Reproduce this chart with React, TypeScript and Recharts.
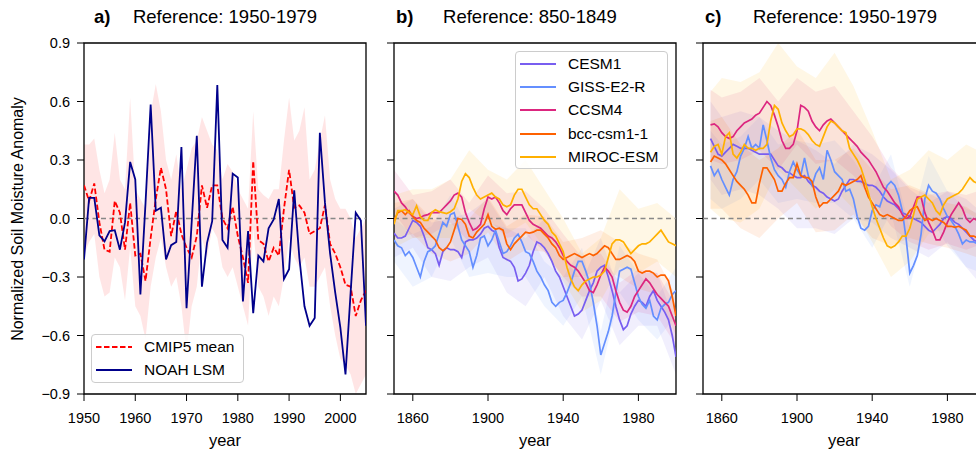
import React from 'react';
import {
  ComposedChart,
  Line,
  Area,
  XAxis,
  YAxis,
  ReferenceLine,
  ReferenceArea,
  Legend,
} from 'recharts';

const FONT = '"Liberation Sans", Arial, Helvetica, sans-serif';

// ---------- panel a: 1950-2005, annual ----------
const yearsA: number[] = [];
for (let y = 1950; y <= 2005; y++) yearsA.push(y);

const noahLsm = [
  -0.21, 0.106, 0.106, -0.087, -0.117, -0.065, -0.06, -0.16, -0.02, 0.29,
  0.2, -0.39, 0.08, 0.585, 0.04, 0.055, -0.21, -0.137, -0.12, 0.367,
  -0.46, -0.02, 0.424, -0.35, -0.125, -0.014, 0.684, -0.11, -0.15, 0.23,
  0.21, -0.425, -0.065, -0.485, -0.19, -0.22, -0.05, -0.005, 0.1, -0.31,
  -0.26, 0.145, -0.2, -0.45, -0.55, -0.51, 0.44, 0.08, -0.18, -0.38,
  -0.56, -0.8, -0.38, 0.03, -0.01, -0.55,
];
const cmipMean = [
  0.17, 0.09, 0.18, -0.02, -0.16, -0.17, 0.09, 0.03, -0.16, 0.08,
  -0.19, -0.18, -0.32, -0.1, 0.1, 0.26, 0.15, -0.09, 0.04, -0.08,
  -0.15, -0.2, -0.09, 0.17, 0.055, 0.17, 0.17, 0.0, -0.05, 0.06,
  -0.09, -0.2, -0.33, 0.295, -0.11, -0.13, -0.22, -0.15, -0.19, 0.05,
  0.25, 0.055, 0.067, 0.03, -0.08, -0.065, -0.05, 0.07, -0.13, -0.18,
  -0.25, -0.34, -0.35, -0.5, -0.42, -0.37,
];
const cmipHi = [
  0.38, 0.38, 0.41, 0.25, 0.13, 0.2, 0.44, 0.2, 0.15, 0.62,
  0.15, 0.1, 0.05, 0.54, 0.69, 0.55, 0.3, 0.2, 0.33, 0.15,
  0.25, 0.36, 0.4, 0.52, 0.45, 0.38, 0.35, 0.2, 0.28, 0.24,
  0.15, 0.1, 0.05, 0.55, 0.15, 0.12, 0.1, 0.15, 0.15, 0.4,
  0.62, 0.4, 0.45, 0.57, 0.2, 0.25, 0.4, 0.53, 0.2, 0.1,
  0.05, 0.05, 0.0, -0.1, -0.05, 0.0,
];
const cmipLo = [
  -0.19, -0.12, -0.08, -0.3, -0.4, -0.38, -0.2, -0.25, -0.42, -0.15,
  -0.45, -0.5, -0.62, -0.35, -0.2, -0.1, -0.25, -0.35, -0.3, -0.45,
  -0.69, -0.45, -0.35, -0.1, -0.2, -0.05, -0.1, -0.25, -0.3, -0.25,
  -0.35, -0.45, -0.55, -0.05, -0.35, -0.4, -0.5, -0.4, -0.45, -0.3,
  -0.1, -0.2, -0.25, -0.2, -0.35, -0.35, -0.3, -0.25, -0.45, -0.6,
  -0.72, -0.75, -0.8, -0.9, -0.85, -0.8,
];

// ---------- panel b: reference 850-1849 ----------
const yearsB: number[] = [];
for (let y = 1850; y <= 2000; y += 2) yearsB.push(y);

const cesm1B = [
  -0.075, -0.1, -0.1, -0.09, -0.05, -0.01, -0.02, -0.04, -0.09, -0.15,
  -0.16, -0.18, -0.24, -0.17, -0.15, -0.16, -0.16, -0.17, -0.2, -0.12,
  -0.11, -0.11, -0.1, -0.08, -0.05, -0.04, -0.06, -0.07, -0.15, -0.2,
  -0.21, -0.22, -0.25, -0.32, -0.31, -0.28, -0.24, -0.17, -0.12,
  -0.13, -0.15, -0.18, -0.22, -0.27, -0.3, -0.35, -0.4, -0.45, -0.5,
  -0.49, -0.47, -0.42, -0.37, -0.33, -0.27, -0.25, -0.24, -0.3, -0.37,
  -0.45, -0.52, -0.57, -0.55, -0.49, -0.45, -0.42, -0.43, -0.45, -0.4,
  -0.37, -0.42, -0.45, -0.48, -0.52, -0.6, -0.71,
];
const gissB = [
  -0.11, -0.14, -0.15, -0.19, -0.17, -0.2, -0.25, -0.3, -0.22, -0.17,
  -0.16, -0.14, -0.08, -0.02, -0.04, 0.02, 0.03, -0.04, -0.11, -0.14,
  -0.17, -0.25, -0.19, -0.1, -0.09, -0.14, -0.11, -0.06, -0.12, -0.18,
  -0.17, -0.14, -0.1, -0.08, -0.12, -0.17, -0.18, -0.22, -0.27,
  -0.3, -0.34, -0.37, -0.43, -0.45, -0.43, -0.42, -0.38, -0.33, -0.27,
  -0.22, -0.22, -0.27, -0.33, -0.43, -0.55, -0.7, -0.64, -0.58, -0.5,
  -0.38, -0.27, -0.26, -0.25, -0.26, -0.33, -0.4, -0.44, -0.46, -0.42,
  -0.5, -0.52, -0.46, -0.44, -0.43, -0.39, -0.37,
];
const ccsm4B = [
  0.14, 0.12, 0.08, 0.06, 0.03, 0.01, 0.0, 0.005, 0.015, 0.02,
  0.03, 0.03, 0.03, 0.05, 0.07, 0.09, 0.12, 0.13, 0.11, 0.03,
  -0.02, -0.06, -0.05, -0.03, 0.05, 0.11, 0.1, 0.11, 0.08, 0.04,
  0.02, 0.05, 0.07, 0.07, 0.07, 0.03, -0.01, -0.03, -0.04,
  -0.05, -0.07, -0.09, -0.1, -0.12, -0.15, -0.19, -0.22, -0.24, -0.25,
  -0.27, -0.3, -0.33, -0.37, -0.38, -0.34, -0.29, -0.25, -0.27, -0.3,
  -0.37, -0.43, -0.47, -0.48, -0.45, -0.4, -0.37, -0.34, -0.31, -0.33,
  -0.36, -0.39, -0.41, -0.43, -0.45, -0.5, -0.55,
];
const bccB = [
  -0.01, 0.03, 0.04, 0.02, 0.04, 0.01, -0.01, -0.02, -0.05, -0.07,
  -0.09, -0.11, -0.15, -0.165, -0.15, -0.12, -0.06, 0.0, -0.005, -0.03,
  -0.09, -0.1, -0.07, -0.05, -0.03, 0.02, -0.04, -0.055, -0.05, -0.06,
  -0.13, -0.16, -0.13, -0.11, -0.09, -0.07, -0.075, -0.07, -0.06,
  -0.06, -0.08, -0.1, -0.13, -0.15, -0.19, -0.21, -0.2, -0.19, -0.18,
  -0.19, -0.2, -0.19, -0.18, -0.19, -0.18, -0.16, -0.14, -0.15, -0.18,
  -0.21, -0.21, -0.2, -0.19, -0.2, -0.22, -0.27, -0.28, -0.27, -0.27,
  -0.28, -0.3, -0.29, -0.29, -0.32, -0.4, -0.5,
];
const mirocB = [
  -0.03, 0.04, 0.04, 0.045, 0.03, 0.02, 0.065, 0.01, -0.01, -0.01,
  0.03, 0.045, 0.035, 0.03, 0.025, 0.035, 0.05, 0.1, 0.19, 0.23,
  0.21, 0.16, 0.12, 0.1, 0.11, 0.12, 0.13, 0.11, 0.1, 0.07,
  0.06, 0.07, 0.12, 0.15, 0.15, 0.11, 0.07, 0.05, 0.05,
  0.02, -0.01, -0.03, -0.07, -0.09, -0.13, -0.17, -0.25, -0.31, -0.35,
  -0.37, -0.34, -0.32, -0.31, -0.3, -0.3, -0.29, -0.27, -0.2, -0.13,
  -0.11, -0.11, -0.12, -0.15, -0.18, -0.16, -0.14, -0.13, -0.13, -0.12,
  -0.1, -0.08, -0.06, -0.09, -0.12, -0.13, -0.14,
];

// ensemble spread, read every 10 years
const bandYearsB = [1850, 1860, 1870, 1880, 1890, 1900, 1910, 1920, 1930, 1940, 1950, 1960, 1970, 1980, 1990, 2000];
const cesm1BLo = [-0.2, -0.15, -0.3, -0.32, -0.25, -0.2, -0.38, -0.45, -0.3, -0.5, -0.62, -0.42, -0.65, -0.55, -0.55, -0.8];
const cesm1BHi = [0.05, 0.1, -0.02, 0.0, 0.03, 0.1, -0.05, -0.1, 0.0, -0.2, -0.32, -0.1, -0.38, -0.28, -0.28, -0.55];
const gissBLo = [-0.22, -0.35, -0.3, -0.1, -0.3, -0.28, -0.3, -0.3, -0.45, -0.55, -0.4, -0.8, -0.38, -0.52, -0.62, -0.5];
const gissBHi = [0.0, -0.08, -0.04, 0.12, -0.05, -0.02, -0.05, -0.05, -0.22, -0.3, -0.15, -0.58, -0.14, -0.28, -0.4, -0.25];
const ccsm4BLo = [0.03, -0.1, -0.08, -0.02, -0.12, 0.0, -0.1, -0.08, -0.17, -0.3, -0.4, -0.4, -0.53, -0.48, -0.5, -0.65];
const ccsm4BHi = [0.25, 0.12, 0.14, 0.2, 0.08, 0.22, 0.13, 0.14, 0.05, -0.08, -0.2, -0.18, -0.33, -0.26, -0.28, -0.45];
const bccBLo = [-0.1, -0.08, -0.18, -0.22, -0.18, -0.07, -0.22, -0.16, -0.17, -0.3, -0.3, -0.26, -0.3, -0.36, -0.39, -0.6];
const bccBHi = [0.08, 0.1, 0.0, -0.03, 0.0, 0.11, -0.04, 0.02, 0.01, -0.12, -0.1, -0.06, -0.12, -0.18, -0.21, -0.4];
const mirocBLo = [-0.15, -0.1, -0.1, -0.1, 0.05, -0.02, -0.08, -0.02, -0.15, -0.32, -0.48, -0.42, -0.25, -0.28, -0.22, -0.3];
const mirocBHi = [0.12, 0.15, 0.15, 0.2, 0.35, 0.25, 0.2, 0.3, 0.15, 0.0, -0.18, -0.1, 0.15, 0.05, 0.08, 0.0];

// ---------- panel c: reference 1950-1979 ----------
const yearsC: number[] = [];
for (let y = 1854; y <= 1996; y += 2) yearsC.push(y);

const cesm1C = [
  0.41, 0.37, 0.33, 0.32, 0.34, 0.36, 0.38, 0.37, 0.36, 0.36,
  0.36, 0.35, 0.34, 0.33, 0.33, 0.33, 0.33, 0.3, 0.27, 0.26,
  0.24, 0.235, 0.22, 0.21, 0.21, 0.22, 0.19, 0.17, 0.16, 0.14,
  0.13, 0.11, 0.1, 0.09, 0.1, 0.14,
  0.17, 0.2, 0.2, 0.19, 0.19, 0.18, 0.17, 0.17, 0.16, 0.14,
  0.11, 0.09, 0.08, 0.07, 0.05, 0.03, 0.02, 0.01, 0.0, -0.01,
  -0.02, -0.04, -0.06, -0.07, -0.05, -0.03, 0.0, 0.01, 0.0, -0.02,
  -0.03, -0.05, -0.07, -0.09, -0.11, -0.12,
];
const gissC = [
  0.27, 0.22, 0.25, 0.2, 0.16, 0.12, 0.2, 0.24, 0.32, 0.36,
  0.42, 0.36, 0.38, 0.36, 0.48, 0.4, 0.31, 0.25, 0.22, 0.2,
  0.16, 0.24, 0.29, 0.25, 0.22, 0.31, 0.22, 0.17, 0.23, 0.26,
  0.2, 0.35, 0.3, 0.24, 0.22, 0.2,
  0.14, 0.15, 0.1, 0.01, -0.05, -0.06, -0.04, 0.04, 0.07, 0.06,
  0.12, 0.17, 0.19, 0.17, 0.12, 0.04, -0.1, -0.28, -0.24, -0.19,
  -0.08, 0.1, 0.17, 0.14, 0.13, 0.1, 0.05, 0.01, -0.01, -0.04,
  -0.08, -0.13, -0.11, -0.12, -0.12, -0.13,
];
const ccsm4C = [
  0.48, 0.485, 0.47, 0.44, 0.42, 0.41, 0.42, 0.45, 0.47, 0.49,
  0.5, 0.51, 0.53, 0.54, 0.57, 0.6, 0.58, 0.53, 0.47, 0.4,
  0.36, 0.36, 0.38, 0.45, 0.58, 0.57, 0.55, 0.5, 0.47, 0.45,
  0.48, 0.5, 0.51, 0.49, 0.47, 0.45,
  0.43, 0.41, 0.39, 0.37, 0.34, 0.32, 0.3, 0.27, 0.24, 0.2,
  0.16, 0.14, 0.11, 0.08, 0.06, 0.02, 0.0, 0.01, 0.06, 0.11,
  0.11, 0.03, -0.02, -0.06, -0.11, -0.11, -0.07, -0.02, 0.02, 0.05,
  0.08, 0.05, 0.0, -0.02, 0.0, -0.01,
];
const bccC = [
  0.29, 0.32, 0.31, 0.3, 0.28, 0.25, 0.22, 0.19, 0.17, 0.15,
  0.12, 0.08, 0.08, 0.18, 0.26, 0.26, 0.23, 0.2, 0.14, 0.14,
  0.18, 0.21, 0.21, 0.28, 0.22, 0.21, 0.21, 0.19, 0.11, 0.06,
  0.08, 0.08, 0.1, 0.12, 0.14, 0.18,
  0.17, 0.18, 0.19, 0.2, 0.22, 0.16, 0.11, 0.08, 0.05, 0.02,
  0.01, 0.02, 0.01, 0.0, -0.01, -0.01, 0.01, 0.04, 0.055, 0.06,
  0.02, -0.01, 0.0, -0.01, 0.0, -0.01, -0.02, -0.04, -0.04, -0.045,
  -0.04, -0.05, -0.06, -0.09, -0.09, -0.1,
];
const mirocC = [
  0.34, 0.37, 0.38, 0.33, 0.42, 0.44, 0.33, 0.31, 0.34, 0.38,
  0.36, 0.36, 0.35, 0.36, 0.36, 0.38, 0.5, 0.58, 0.56, 0.49,
  0.45, 0.42, 0.43, 0.46, 0.46, 0.45, 0.43, 0.4, 0.38, 0.37,
  0.42, 0.47, 0.5, 0.49, 0.47, 0.45,
  0.44, 0.36, 0.33, 0.3, 0.26, 0.2, 0.13, 0.06, 0.0, -0.05,
  -0.1, -0.14, -0.15, -0.14, -0.12, -0.09, -0.09, -0.05, 0.02, 0.1,
  0.11, 0.12, 0.1, 0.08, 0.04, 0.02, 0.07, 0.1, 0.11, 0.12,
  0.13, 0.15, 0.18, 0.21, 0.19, 0.18,
];

const bandYearsC = [1854, 1860, 1870, 1880, 1890, 1900, 1910, 1920, 1930, 1940, 1950, 1960, 1970, 1980, 1990, 1996];
const cesm1CLo = [0.2, 0.12, 0.15, 0.12, 0.05, -0.05, -0.05, -0.08, 0.0, -0.02, -0.1, -0.15, -0.2, -0.12, -0.25, -0.32];
const cesm1CHi = [0.6, 0.52, 0.55, 0.52, 0.45, 0.4, 0.35, 0.28, 0.38, 0.33, 0.25, 0.15, 0.08, 0.14, 0.1, 0.05];
const gissCLo = [0.1, 0.05, 0.1, 0.2, 0.08, 0.1, 0.08, 0.08, 0.0, -0.15, 0.03, -0.35, 0.02, -0.14, -0.25, -0.27];
const gissCHi = [0.45, 0.38, 0.42, 0.52, 0.38, 0.4, 0.38, 0.4, 0.3, 0.15, 0.33, -0.05, 0.32, 0.14, 0.05, 0.03];
const ccsm4CLo = [0.3, 0.28, 0.3, 0.35, 0.25, 0.38, 0.28, 0.3, 0.22, 0.1, -0.04, -0.12, -0.16, -0.13, -0.16, -0.14];
const ccsm4CHi = [0.66, 0.62, 0.65, 0.72, 0.6, 0.72, 0.65, 0.68, 0.55, 0.42, 0.26, 0.16, 0.12, 0.14, 0.12, 0.14];
const bccCLo = [0.05, 0.05, -0.05, -0.1, 0.0, 0.08, -0.07, -0.06, 0.02, -0.1, -0.14, -0.1, -0.13, -0.15, -0.18, -0.2];
const bccCHi = [0.5, 0.52, 0.38, 0.3, 0.36, 0.46, 0.3, 0.3, 0.36, 0.25, 0.15, 0.17, 0.13, 0.08, 0.06, 0.02];
const mirocCLo = [0.05, 0.0, -0.02, 0.05, 0.25, 0.15, 0.05, 0.15, 0.05, -0.12, -0.3, -0.22, -0.08, -0.05, 0.03, 0.0];
const mirocCHi = [0.65, 0.72, 0.7, 0.75, 0.9, 0.78, 0.72, 0.85, 0.68, 0.45, 0.2, 0.25, 0.35, 0.3, 0.38, 0.35];

const modelNames = ['CESM1', 'GISS-E2-R', 'CCSM4', 'bcc-csm1-1', 'MIROC-ESM'];
const modelColors = ['#785EF0', '#648FFF', '#DC267F', '#FE6100', '#FFB000'];

const yTicks = [-0.9, -0.6, -0.3, 0, 0.3, 0.6, 0.9];
const xTicksA = [1950, 1960, 1970, 1980, 1990, 2000];
const xTicksBC = [1860, 1900, 1940, 1980];

type Model = { name: string; color: string; line: number[]; lo: number[]; hi: number[] };

const modelsB: Model[] = [
  { name: modelNames[0], color: modelColors[0], line: cesm1B, lo: cesm1BLo, hi: cesm1BHi },
  { name: modelNames[1], color: modelColors[1], line: gissB, lo: gissBLo, hi: gissBHi },
  { name: modelNames[2], color: modelColors[2], line: ccsm4B, lo: ccsm4BLo, hi: ccsm4BHi },
  { name: modelNames[3], color: modelColors[3], line: bccB, lo: bccBLo, hi: bccBHi },
  { name: modelNames[4], color: modelColors[4], line: mirocB, lo: mirocBLo, hi: mirocBHi },
];
const modelsC: Model[] = [
  { name: modelNames[0], color: modelColors[0], line: cesm1C, lo: cesm1CLo, hi: cesm1CHi },
  { name: modelNames[1], color: modelColors[1], line: gissC, lo: gissCLo, hi: gissCHi },
  { name: modelNames[2], color: modelColors[2], line: ccsm4C, lo: ccsm4CLo, hi: ccsm4CHi },
  { name: modelNames[3], color: modelColors[3], line: bccC, lo: bccCLo, hi: bccCHi },
  { name: modelNames[4], color: modelColors[4], line: mirocC, lo: mirocCLo, hi: mirocCHi },
];

const dataA = yearsA.map((year, i) => ({
  year,
  noah: noahLsm[i],
  cmip: cmipMean[i],
  band: [cmipLo[i], cmipHi[i]],
}));

const lineTable = (years: number[], models: Model[]) =>
  years.map((year, i) => {
    const row: Record<string, number> = { year };
    models.forEach((m, k) => (row['m' + k] = m.line[i]));
    return row;
  });

const bandTable = (years: number[], m: Model) =>
  years.map((year, i) => ({ year, band: [m.lo[i], m.hi[i]] }));

const dataB = lineTable(yearsB, modelsB);
const dataC = lineTable(yearsC, modelsC);

const fmt = (v: number) => v.toFixed(1).replace('-', '\u2212');
const tickStyle = { fill: '#000', fontSize: 14.5, fontFamily: FONT };
const PLOT_H = 451;

type LegendItem = { name: string; color: string; dash?: string };

const LegendBox = ({ items }: { items: LegendItem[] }) => (
  <div
    style={{
      background: 'rgba(255,255,255,0.85)',
      border: '1px solid #cccccc',
      borderRadius: 4,
      padding: '0 9px 0 4px',
      fontFamily: FONT,
      fontSize: 15.5,
      color: '#000',
    }}
  >
    {items.map((it) => (
      <div key={it.name} style={{ display: 'flex', alignItems: 'center', height: 23.3 }}>
        <svg width={36} height={10} style={{ marginRight: 12 }}>
          <line x1={0} y1={5} x2={36} y2={5} stroke={it.color} strokeWidth={1.8} strokeDasharray={it.dash} />
        </svg>
        <span style={{ whiteSpace: 'nowrap' }}>{it.name}</span>
      </div>
    ))}
  </div>
);

const xLabel = { value: 'year', position: 'insideBottom' as const, offset: 5, fill: '#000', fontSize: 16.5, fontFamily: FONT };

const PanelA = () => (
  <ComposedChart width={372} height={PLOT_H} data={dataA} margin={{ top: 43, right: 6, bottom: 0, left: 0 }}>
    <XAxis
      dataKey="year"
      type="number"
      domain={[1950, 2005]}
      ticks={xTicksA}
      allowDataOverflow
      axisLine={false}
      tickLine={{ stroke: '#000' }}
      tickSize={7}
      tickMargin={12}
      tick={tickStyle}
      height={57}
      label={xLabel}
    />
    <YAxis
      type="number"
      domain={[-0.9, 0.9]}
      ticks={yTicks}
      allowDataOverflow
      axisLine={false}
      tickLine={{ stroke: '#000' }}
      tickSize={7}
      tickMargin={7}
      tick={tickStyle}
      tickFormatter={fmt}
      width={84}
    />
    <Area dataKey="band" type="linear" stroke="none" fill="#ff0000" fillOpacity={0.1} isAnimationActive={false} legendType="none" />
    <ReferenceLine y={0} stroke="#888888" strokeWidth={1.4} strokeDasharray="5 3.5" />
    <Line dataKey="cmip" type="linear" stroke="#ff0000" strokeWidth={1.8} strokeDasharray="5.5 2.5" dot={false} isAnimationActive={false} />
    <Line dataKey="noah" type="linear" stroke="#00008b" strokeWidth={1.8} dot={false} isAnimationActive={false} />
    <ReferenceArea x1={1950} x2={2005} y1={-0.9} y2={0.9} fill="none" stroke="#000" strokeWidth={1.3} />
    <Legend
      layout="vertical"
      align="center"
      verticalAlign="middle"
      wrapperStyle={{ left: 91, top: 334, width: 'auto' }}
      content={() => (
        <LegendBox
          items={[
            { name: 'CMIP5 mean', color: '#ff0000', dash: '5.5 2.5' },
            { name: 'NOAH LSM', color: '#00008b' },
          ]}
        />
      )}
    />
  </ComposedChart>
);

const ModelPanel = ({ data, models, bandYears, domainMin, showLegend }: {
  data: Record<string, number>[];
  models: Model[];
  bandYears: number[];
  domainMin: number;
  showLegend: boolean;
}) => (
  <ComposedChart width={306} height={PLOT_H} data={data} margin={{ top: 43, right: 6, bottom: 0, left: 0 }}>
    <XAxis
      dataKey="year"
      type="number"
      domain={[domainMin, 2000]}
      ticks={xTicksBC}
      allowDataOverflow
      axisLine={false}
      tickLine={{ stroke: '#000' }}
      tickSize={7}
      tickMargin={12}
      tick={tickStyle}
      height={57}
      label={xLabel}
    />
    <YAxis
      type="number"
      domain={[-0.9, 0.9]}
      ticks={yTicks}
      allowDataOverflow
      axisLine={false}
      tickLine={{ stroke: '#000' }}
      tickSize={7}
      tickFormatter={() => ''}
      width={18}
    />
    {models.map((m) => (
      <Area
        key={'band' + m.name}
        data={bandTable(bandYears, m)}
        dataKey="band"
        type="linear"
        stroke="none"
        fill={m.color}
        fillOpacity={0.1}
        isAnimationActive={false}
        legendType="none"
      />
    ))}
    <ReferenceLine y={0} stroke="#888888" strokeWidth={1.4} strokeDasharray="5 3.5" />
    {models.map((m, k) => (
      <Line
        key={m.name}
        dataKey={'m' + k}
        name={m.name}
        type="linear"
        stroke={m.color}
        strokeWidth={1.7}
        dot={false}
        isAnimationActive={false}
      />
    ))}
    <ReferenceArea x1={domainMin} x2={2000} y1={-0.9} y2={0.9} fill="none" stroke="#000" strokeWidth={1.3} />
    {showLegend && (
      <Legend
        layout="vertical"
        align="center"
        verticalAlign="middle"
        wrapperStyle={{ left: 139, top: 51, width: 'auto' }}
        content={() => <LegendBox items={models.map((m) => ({ name: m.name, color: m.color }))} />}
      />
    )}
  </ComposedChart>
);

const titleStyle: React.CSSProperties = {
  position: 'absolute',
  top: 6,
  fontFamily: FONT,
  fontSize: 18.5,
  lineHeight: '22px',
  color: '#000',
  whiteSpace: 'nowrap',
};

const Title = ({ tag, text, tagX, center }: { tag: string; text: string; tagX: number; center: number }) => (
  <>
    <div style={{ ...titleStyle, left: tagX, fontWeight: 'bold' }}>{tag}</div>
    <div style={{ ...titleStyle, left: center, transform: 'translateX(-50%)' }}>{text}</div>
  </>
);

export default function App() {
  return (
    <div
      style={{
        position: 'fixed',
        left: 0,
        top: 0,
        width: 976,
        height: 451,
        overflow: 'hidden',
        background: '#fff',
      }}
    >
      <div style={{ position: 'absolute', left: 0, top: 0 }}>
        <PanelA />
      </div>
      <div style={{ position: 'absolute', left: 376, top: 0 }}>
        <ModelPanel data={dataB} models={modelsB} bandYears={bandYearsB} domainMin={1850} showLegend />
      </div>
      <div style={{ position: 'absolute', left: 685, top: 0 }}>
        <ModelPanel data={dataC} models={modelsC} bandYears={bandYearsC} domainMin={1850} showLegend={false} />
      </div>

      <Title tag="a)" text="Reference: 1950-1979" tagX={94} center={225} />
      <Title tag="b)" text="Reference: 850-1849" tagX={396} center={530} />
      <Title tag="c)" text="Reference: 1950-1979" tagX={705} center={845} />

      <div
        style={{
          position: 'absolute',
          left: 18,
          top: 219,
          transform: 'translate(-50%, -50%) rotate(-90deg)',
          fontFamily: FONT,
          fontSize: 16,
          whiteSpace: 'nowrap',
          color: '#000',
        }}
      >
        Normalized Soil Moisture Anomaly
      </div>
    </div>
  );
}
